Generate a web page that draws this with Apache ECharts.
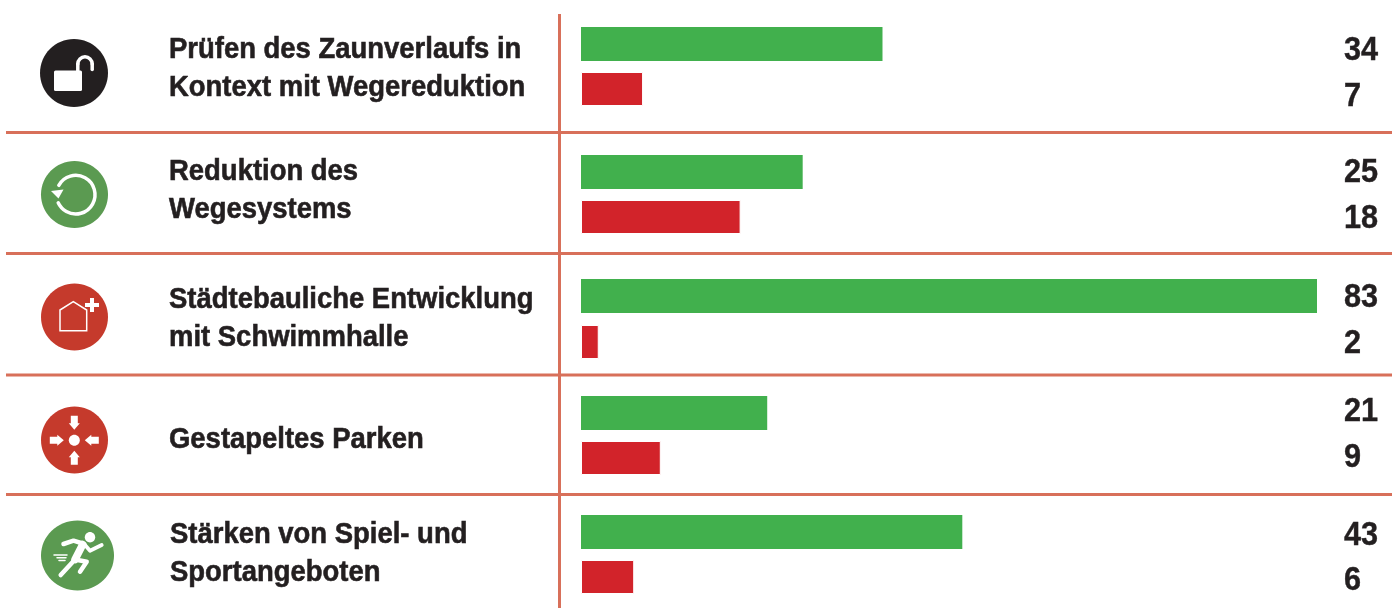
<!DOCTYPE html>
<html>
<head>
<meta charset="utf-8">
<style>
  html, body { margin: 0; padding: 0; background: #fff; }
  #chart { width: 1392px; height: 608px; }
</style>
<script src="https://cdn.jsdelivr.net/npm/echarts@6/dist/echarts.min.js"></script>
</head>
<body>
<div id="chart"></div>
<script>
const rowTitles = [
  'Prüfen des Zaunverlaufs in\nKontext mit Wegereduktion',
  'Reduktion des\nWegesystems',
  'Städtebauliche Entwicklung\nmit Schwimmhalle',
  'Gestapeltes Parken',
  'Stärken von Spiel- und\nSportangeboten'
]
const greenValues = [34, 25, 83, 21, 43]
const redValues = [7, 18, 2, 9, 6]

const GREEN = '#41b04d'
const RED = '#d2232a'
const LINE = '#d8705a'
const INK = '#231f20'

// rows are not evenly spaced in the original, so each one gets its own grid
const gridTops = [21.5, 149.5, 273, 390.5, 509.5]
const gridHeights = [90, 90, 92, 90, 90]
const titleCenters = [68.5, 191, 318.5, 440, 554]
const separators = [132.5, 253.5, 375, 494.5]
// the numbers do not line up with their bars in every row
const greenLabelY = [49, 170.5, 295.5, 409.5, 534]
const redLabelY = [95, 216.5, 341.7, 455.5, 579]

const grid = [], xAxis = [], yAxis = [], series = []
rowTitles.forEach((title, i) => {
  grid.push({ left: 581, width: 736, top: gridTops[i], height: gridHeights[i] })
  xAxis.push({ gridIndex: i, type: 'value', min: 0, max: 83, show: false })
  yAxis.push({
    gridIndex: i,
    type: 'category',
    inverse: true,
    show: false,
    data: ['green', 'red']
  })
  series.push({
    type: 'bar',
    xAxisIndex: i,
    yAxisIndex: i,
    barWidth: 34,
    silent: true,
    data: [
      { value: greenValues[i], itemStyle: { color: GREEN } },
      { value: redValues[i], itemStyle: { color: RED, borderColor: '#fff', borderWidth: 1 } }
    ]
  })
})

const white = { fill: '#fff' }
const stroke = (w) => ({ fill: 'none', stroke: '#fff', lineWidth: w, lineCap: 'round', lineJoin: 'round' })
const disc = (cx, cy, rx, ry, fill) => ({ type: 'ellipse', shape: { cx, cy, rx, ry }, style: { fill } })
const poly = (points, w) => ({ type: 'polyline', shape: { points }, style: stroke(w) })
const arc = (cx, cy, r, from, to, w) => ({
  type: 'arc',
  shape: { cx, cy, r, startAngle: from * Math.PI / 180, endAngle: to * Math.PI / 180, clockwise: true },
  style: stroke(w)
})

// arrow pointing at (cx, cy) from direction (dx, dy)
const arrow = (cx, cy, dx, dy) => {
  const p = (along, side) => [cx + dx * along - dy * side, cy + dy * along + dx * side]
  return {
    type: 'polygon',
    shape: { points: [p(10.5, 0), p(17, 5.5), p(17, 3.5), p(24.5, 3.5), p(24.5, -3.5), p(17, -3.5), p(17, -5.5)] },
    style: white
  }
}

const icons = [
  // open lock
  disc(74, 73, 34, 34, INK),
  { type: 'rect', shape: { x: 54, y: 70.5, width: 28, height: 20.5, r: 1.5 }, style: white },
  poly([[77.8, 72], [77.8, 64]], 3.5),
  arc(85, 64, 7.2, 180, 360, 3.5),
  poly([[92.2, 64], [92.2, 69.5]], 3.5),
  // refresh
  disc(74.5, 194.5, 33.5, 33.5, '#5b9a51'),
  arc(75.7, 194.7, 19.3, 209, 155, 3.5),
  { type: 'polygon', shape: { points: [[51, 191], [63.5, 189.5], [58.5, 198.5]] }, style: white },
  // house with plus
  disc(74.5, 317, 33.5, 33.5, '#c53a2c'),
  {
    type: 'polygon',
    shape: { points: [[60, 310], [73.3, 301.7], [86.7, 310], [86.7, 330.7], [60, 330.7]] },
    style: { fill: 'none', stroke: '#fff', lineWidth: 1.5 }
  },
  { type: 'rect', shape: { x: 90, y: 298, width: 4, height: 14 }, style: white },
  { type: 'rect', shape: { x: 85, y: 303, width: 14, height: 4 }, style: white },
  // arrows to the centre
  disc(74.5, 440, 33.5, 33.5, '#c53a2c'),
  disc(74.3, 440.3, 5.5, 5.5, '#fff'),
  arrow(74.3, 440.3, 0, -1),
  arrow(74.3, 440.3, 0, 1),
  arrow(74.3, 440.3, -1, 0),
  arrow(74.3, 440.3, 1, 0),
  // runner
  disc(77.5, 555.5, 36.5, 35, '#5b9a51'),
  disc(90, 537.3, 5.2, 5.2, '#fff'),
  poly([[63.5, 544], [73.5, 540.7], [82.7, 543.5]], 4.5),
  poly([[82.7, 544.5], [75, 559.5]], 7.5),
  poly([[75, 559.5], [60.7, 575]], 4.5),
  poly([[75, 559.5], [86.7, 561.7], [80, 571.7]], 4.5),
  poly([[85, 545], [90, 550.7], [101.7, 545]], 3.8),
  poly([[54, 555], [67, 555]], 1.5),
  poly([[57, 557.8], [66, 557.8]], 1.5),
  poly([[59, 560.6], [65, 560.6]], 1.5)
]

const rules = [
  { type: 'rect', shape: { x: 558, y: 14, width: 3, height: 594 }, style: { fill: LINE } }
].concat(separators.map(y => ({
  type: 'rect', shape: { x: 6, y: y - 1.5, width: 1386, height: 3 }, style: { fill: LINE }
})))

// no narrow face is installed, so the sans gets squeezed to the original's widths
const titles = rowTitles.map((title, i) => ({
  type: 'text',
  x: i === 4 ? 170 : 169,
  y: titleCenters[i],
  scaleX: 0.915,
  style: {
    text: title,
    fill: INK,
    stroke: INK,
    lineWidth: 0.6,
    font: 'bold 30px "Liberation Sans"',
    lineHeight: 38,
    verticalAlign: 'middle',
    align: 'left'
  }
}))

const valueLabel = (value, y) => ({
  type: 'text',
  x: 1344,
  y: y + 2,
  scaleX: 0.93,
  style: {
    text: String(value),
    fill: INK,
    stroke: INK,
    lineWidth: 0.4,
    font: 'bold 33px "Liberation Sans"',
    verticalAlign: 'middle',
    align: 'left'
  }
})
const valueLabels = []
rowTitles.forEach((title, i) => {
  valueLabels.push(valueLabel(greenValues[i], greenLabelY[i]))
  valueLabels.push(valueLabel(redValues[i], redLabelY[i]))
})

const chart = echarts.init(document.getElementById('chart'))
chart.setOption({
  animation: false,
  backgroundColor: '#fff',
  grid, xAxis, yAxis, series,
  graphic: { elements: rules.concat(icons, titles, valueLabels).map(el => ({ ...el, silent: true })) }
})
</script>
</body>
</html>
